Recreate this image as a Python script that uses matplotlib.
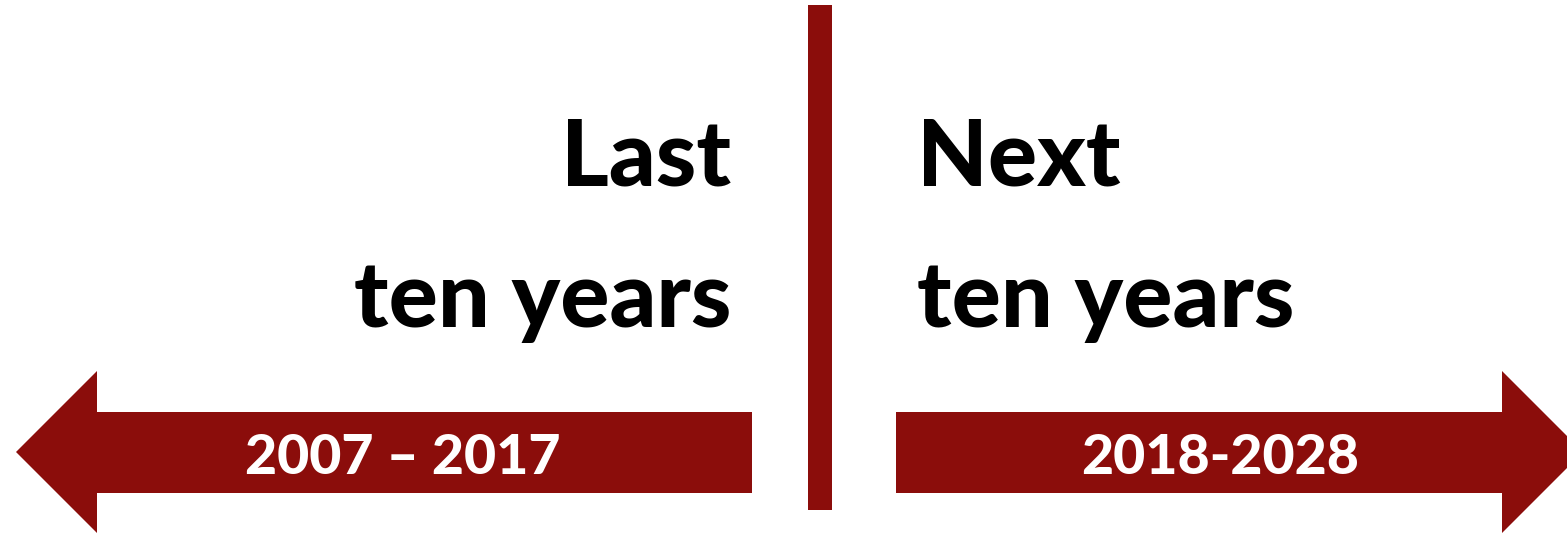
import matplotlib.pyplot as plt
from matplotlib.patches import Polygon, Rectangle

# Content
left_heading = ["Last", "ten years"]
right_heading = ["Next", "ten years"]
period_labels = ["2007 \u2013 2017", "2018-2028"]

RED = "#8B0D0B"
W, H = 1567, 534

fig = plt.figure(figsize=(W / 100, H / 100), dpi=100)
ax = fig.add_axes([0, 0, 1, 1])
ax.set_xlim(0, W)
ax.set_ylim(H, 0)
ax.axis("off")

# Divider
ax.add_patch(Rectangle((808, 5), 24, 505, color=RED, lw=0))

# Left arrow
ax.add_patch(Polygon([(16, 452), (97, 371), (97, 412), (752, 412), (752, 493),
                      (97, 493), (97, 533), (16, 452)], closed=True, color=RED, lw=0))
# Right arrow
ax.add_patch(Polygon([(896, 412), (1502, 412), (1502, 371), (1583, 452), (1502, 533),
                      (1502, 493), (896, 493)], closed=True, color=RED, lw=0))

font = dict(family="Lato", weight="black")
hs = 66
ax.text(731, 185, left_heading[0], ha="right", va="baseline", fontsize=hs, color="black", **font)
ax.text(731, 327, left_heading[1], ha="right", va="baseline", fontsize=hs, color="black", **font)
ax.text(917, 185, right_heading[0], ha="left", va="baseline", fontsize=hs, color="black", **font)
ax.text(917, 327, right_heading[1], ha="left", va="baseline", fontsize=hs, color="black", **font)

ps = 40
ax.text(403, 474, period_labels[0], ha="center", va="baseline", fontsize=ps, color="white", **font)
ax.text(1220, 474, period_labels[1], ha="center", va="baseline", fontsize=ps, color="white", **font)

fig.savefig("out.png", dpi=100)
